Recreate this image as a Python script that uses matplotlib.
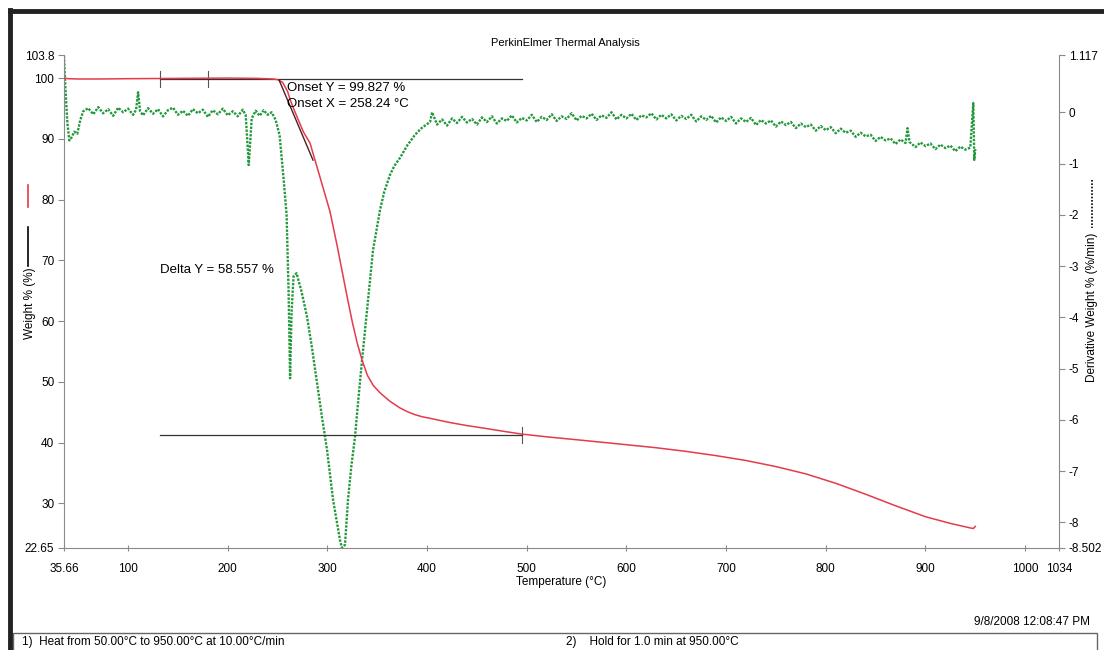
import matplotlib
matplotlib.use('Agg')
import matplotlib.pyplot as plt
from matplotlib.lines import Line2D
from matplotlib.patches import Rectangle

plt.rcParams.update({
    'font.family': ['Liberation Sans', 'DejaVu Sans'],
    'font.size': 8.5,
})

# ── Data ──
temp_w = [35.66, 40, 50, 70, 100, 150, 200, 230, 245, 250, 255, 260, 262.5,
          265, 270, 276, 282.5, 292.5, 302.6, 309.6, 314.6, 320, 325, 330,
          334.7, 340, 346, 352.7, 362.7, 372.8, 380, 387.8, 395, 402.9, 410,
          422.9, 440, 460, 477, 495, 520, 545, 572.7, 600, 630, 660, 690, 720,
          750, 780, 810, 840, 870, 900, 925, 945, 948, 950]
weight = [100.0, 99.9, 99.85, 99.85, 99.9, 99.95, 100.0, 99.95, 99.85, 99.75,
          99.3, 97.8, 96.5, 95.4, 93.4, 91.1, 89.3, 83.7, 78.0, 72.5, 68.3,
          63.8, 59.8, 56.3, 53.6, 51.1, 49.4, 48.2, 46.8, 45.7, 45.1, 44.6,
          44.25, 44.0, 43.75, 43.3, 42.8, 42.3, 41.85, 41.4, 40.95, 40.55,
          40.1, 39.65, 39.15, 38.55, 37.85, 37.05, 36.05, 34.85, 33.3, 31.5,
          29.6, 27.8, 26.7, 25.95, 25.85, 26.2]

temp_d = [35.66, 37, 39, 41, 43, 46, 49, 52, 55,
          60, 65, 70, 75, 80, 85, 90, 95, 100, 105, 108, 110, 112, 115, 120,
          125, 130, 135, 140, 145, 150, 155, 160, 165, 170, 175, 180, 185, 190,
          195, 200, 205, 210, 215, 218, 221, 224, 228, 232, 236, 240, 244,
          248, 252, 256, 259, 261, 262.5, 264, 266, 269, 274, 279.5, 284.5,
          289.5, 294.5, 299.6, 305.6, 310, 312.6, 314.6, 317.6, 320.6, 324,
          327.6, 331, 334.7, 340.7, 345.7, 352.7, 357, 362.8, 367, 372.8, 380,
          387.8, 395, 402.9,
          405, 410, 415, 420, 425, 430, 435, 440, 445, 450, 455, 460, 465, 470,
          475, 480, 485, 490, 495, 500, 505, 510, 515, 520, 525, 530, 535, 540,
          545, 550, 555, 560, 565, 570, 575, 580, 585, 590, 595, 600, 605, 610,
          615, 620, 625, 630, 635, 640, 645, 650, 655, 660, 665, 670, 675, 680,
          685, 690, 695, 700, 705, 710, 715, 720, 725, 730, 735, 740, 745, 750,
          755, 760, 765, 770, 775, 780, 785, 790, 795, 800, 805, 810, 815, 820,
          825, 830, 835, 840, 845, 850, 855, 860, 865, 870, 875, 880, 882, 884,
          890, 895, 900, 905, 910, 915, 920, 925, 930, 935, 940, 945, 948, 949,
          950]
deriv = [1.10, 0.5, -0.2, -0.55, -0.50, -0.38, -0.42, -0.15, 0.02,
         0.08, -0.04, 0.10, -0.02, 0.06, -0.07, 0.09, 0.00, 0.07, -0.05, 0.05,
         0.39, 0.02, -0.06, 0.08, -0.03, 0.06, -0.08, 0.04, 0.09, -0.05, 0.03,
         -0.07, 0.06, -0.02, 0.05, -0.09, 0.04, -0.04, 0.07, -0.06, 0.02,
         -0.08, 0.05, -0.06, -1.03, -0.12, 0.03, -0.07, 0.04, -0.05, 0.00,
         -0.15, -0.45, -1.3, -2.0, -3.5, -5.19, -3.9, -3.2, -3.14, -3.5,
         -3.99, -4.6, -5.28, -5.95, -6.59, -7.56, -8.05, -8.35, -8.50, -8.44,
         -7.56, -6.9, -6.34, -5.6, -4.84, -3.66, -2.69, -1.91, -1.55, -1.22,
         -1.05, -0.89, -0.65, -0.44, -0.30, -0.19,
         0.00, -0.24, -0.14, -0.26, -0.12, -0.21, -0.09, -0.20, -0.13, -0.24,
         -0.10, -0.19, -0.08, -0.22, -0.12, -0.17, -0.06, -0.20, -0.11, -0.16,
         -0.05, -0.19, -0.09, -0.15, -0.04, -0.17, -0.08, -0.13, -0.02, -0.16,
         -0.07, -0.12, -0.03, -0.15, -0.06, -0.11, 0.00, -0.14, -0.05, -0.12,
         -0.03, -0.15, -0.06, -0.10, -0.02, -0.14, -0.05, -0.12, -0.04, -0.16,
         -0.07, -0.13, -0.05, -0.18, -0.08, -0.15, -0.07, -0.20, -0.10, -0.17,
         -0.09, -0.22, -0.12, -0.19, -0.11, -0.25, -0.15, -0.22, -0.16, -0.28,
         -0.18, -0.25, -0.19, -0.31, -0.22, -0.29, -0.24, -0.36, -0.27, -0.35,
         -0.29, -0.41, -0.32, -0.40, -0.36, -0.48, -0.40, -0.47, -0.44, -0.56,
         -0.48, -0.55, -0.51, -0.62, -0.53, -0.60, -0.31, -0.58, -0.68, -0.59,
         -0.66, -0.61, -0.72, -0.63, -0.70, -0.65, -0.76, -0.67, -0.73, -0.69,
         0.18, -0.93, -0.72]

# step analysis markers
onset_x, onset_y = 258.24, 99.827
tangent_t = [251.4, 285.5]
tangent_w = [99.7, 86.5]
step_start, step_end = 132, 495
step_ticks_top = [132, 180]
delta_y = 58.557
final_w = onset_y - delta_y

x_ticks = [35.66, 100, 200, 300, 400, 500, 600, 700, 800, 900, 1000, 1034]
y_ticks = [22.65, 30, 40, 50, 60, 70, 80, 90, 100, 103.8]
d_ticks = [-8.502, -8, -7, -6, -5, -4, -3, -2, -1, 0, 1.117]

RED = '#e43a4c'
GREEN = '#23993c'
GREY = '#8a8a8a'

fig = plt.figure(figsize=(11.04, 6.5), dpi=100)
ax = fig.add_axes([64/1104, 1 - 548/650, (1059 - 64)/1104, (548 - 55)/650])
ax2 = ax.twinx()

ax.set_xlim(35.66, 1034)
ax.set_ylim(22.65, 103.8)
ax2.set_ylim(-8.502, 1.117)

ax2.plot(temp_d, deriv, color=GREEN, lw=1.7, ls=(0, (1, 0.6)))
ax.plot(temp_w, weight, color=RED, lw=1.1, zorder=5)
ax.set_zorder(ax2.get_zorder() + 1)
ax.patch.set_visible(False)

# step / onset construction lines
ax.plot([step_start, step_end], [onset_y, onset_y], color='#333333', lw=0.9, zorder=4)
ax.plot([step_start, step_end], [final_w, final_w], color='#333333', lw=0.9, zorder=4)
ax.plot(tangent_t, tangent_w, color='#4a2020', lw=1.0, zorder=6)
for t in step_ticks_top:
    ax.plot([t, t], [onset_y - 1.3, onset_y + 1.3], color='#555555', lw=0.8)
ax.plot([step_end, step_end], [final_w - 1.3, final_w + 1.3], color='#555555', lw=0.8)

ax.text(onset_x + 1, 98.4, f'Onset Y = {onset_y:.3f} %', fontsize=9.5, va='center', zorder=7)
ax.text(onset_x + 1, 95.7, f'Onset X = {onset_x:.2f} °C', fontsize=9.5, va='center', zorder=7)
ax.text(step_start, 68.4, f'Delta Y = {delta_y:.3f} %', fontsize=9.5, va='center')

# axes styling
for a in (ax, ax2):
    a.spines['top'].set_visible(False)
    for s in ('left', 'right', 'bottom'):
        a.spines[s].set_color(GREY)
        a.spines[s].set_linewidth(0.8)
ax.spines['right'].set_visible(False)
ax2.spines['left'].set_visible(False)
ax2.spines['bottom'].set_visible(False)

ax.set_xticks(x_ticks)
ax.set_xticklabels(['35.66', '100', '200', '300', '400', '500', '600', '700',
                    '800', '900', '1000', '1034'])
ax.set_yticks(y_ticks)
ax.set_yticklabels(['22.65', '30', '40', '50', '60', '70', '80', '90', '100', '103.8'])
ax2.set_yticks(d_ticks)
ax2.set_yticklabels(['-8.502', '-8', '-7', '-6', '-5', '-4', '-3', '-2', '-1', '0', '1.117'])
ax.tick_params(axis='x', direction='inout', length=5, color=GREY, pad=8, labelsize=8.5)
ax.tick_params(axis='y', direction='out', length=4, color=GREY, pad=3, labelsize=8.5)
ax2.tick_params(axis='y', direction='out', length=4, color=GREY, pad=3, labelsize=8.5)
ax.set_xlabel('Temperature (°C)', fontsize=8.5, labelpad=1)

# titles and page furniture
fig.text(565/1104, 1 - 43/650, 'PerkinElmer Thermal Analysis', ha='center', va='center', fontsize=8)
fig.text(30/1104, 1 - 303/650, 'Weight % (%)', rotation=90, ha='center', va='center', fontsize=8.5)
fig.add_artist(Line2D([28/1104, 28/1104], [1 - 185/650, 1 - 207/650], color=RED, lw=1.2))
fig.add_artist(Line2D([28/1104, 28/1104], [1 - 227/650, 1 - 266/650], color='black', lw=1.2))
fig.text(1092/1104, 1 - 307/650, 'Derivative Weight % (%/min)', rotation=90,
         ha='center', va='center', fontsize=8.5)
fig.add_artist(Line2D([1092/1104, 1092/1104], [1 - 180/650, 1 - 228/650],
                      color='black', lw=1.2, ls=(0, (1, 1))))
fig.text(1090/1104, 1 - 622/650, '9/8/2008 12:08:47 PM', ha='right', va='center', fontsize=8.5)

# report frame
fig.add_artist(Line2D([10/1104, 10/1104], [0, 1 - 10/650], color='#222222', lw=3.5))
fig.add_artist(Line2D([10/1104, 1], [1 - 11/650, 1 - 11/650], color='#222222', lw=3.5))
fig.add_artist(Rectangle((13/1104, -2/650), (1097 - 13)/1104, 19/650,
                         transform=fig.transFigure, fill=False, ec='#666666', lw=1.0))
fig.text(22/1104, 1 - 642/650, '1)  Heat from 50.00°C to 950.00°C at 10.00°C/min',
         ha='left', va='center', fontsize=8.5)
fig.text(566/1104, 1 - 642/650, '2)    Hold for 1.0 min at 950.00°C',
         ha='left', va='center', fontsize=8.5)

fig.savefig('out.png', dpi=100)
